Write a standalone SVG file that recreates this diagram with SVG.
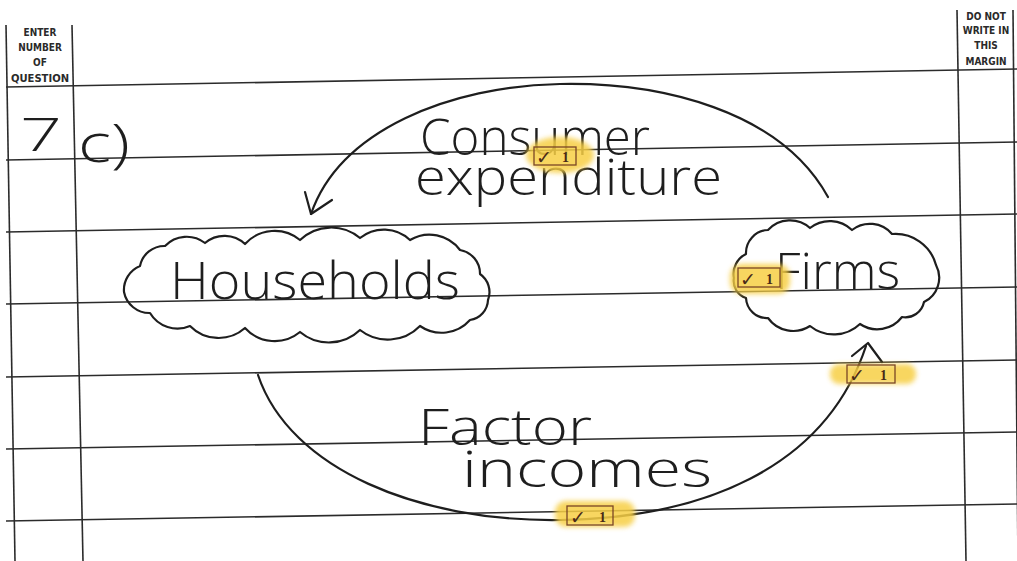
<svg xmlns="http://www.w3.org/2000/svg" width="1017" height="561" viewBox="0 0 1017 561">
  <style>
    .rule { stroke: #2b2b2b; stroke-width: 1.6; fill: none; }
    .ink { stroke: #1e1e1e; stroke-width: 2.2; fill: none; stroke-linecap: round; stroke-linejoin: round; }
    .hand { font-family: "Open Sans", "DejaVu Sans", sans-serif; font-weight: 300; fill: #1e1e1e; }
    .head { font-family: "DejaVu Sans Condensed", "Liberation Sans Narrow", "Liberation Sans", sans-serif; font-weight: bold; font-size: 10px; fill: #2a2a2a; text-anchor: middle; }
    .hl { fill: #f7cf45; opacity: 0.85; filter: url(#soft); }
    .box { fill: none; stroke: #7a4526; stroke-width: 1.3; }
    .tick { font-family: "DejaVu Sans", sans-serif; font-size: 19px; fill: #4a2a18; font-weight: bold; }
    .one { font-family: "Liberation Serif", serif; font-size: 14px; fill: #4a2a18; font-weight: bold; }
  </style>
  <defs>
    <filter id="soft" x="-20%" y="-40%" width="140%" height="180%">
      <feGaussianBlur stdDeviation="2.5"/>
    </filter>
  </defs>

  <rect width="1017" height="561" fill="#ffffff"/>

  <!-- answer sheet ruling (sheet sits slightly skewed) -->
  <g id="sheet">
    <line class="rule" x1="6" y1="25" x2="15" y2="561"/>
    <line class="rule" x1="72" y1="25" x2="83" y2="561"/>
    <line class="rule" x1="957" y1="10" x2="966" y2="561"/>
    <line class="rule" x1="1013" y1="10" x2="1018" y2="561"/>
    <line class="rule" x1="6" y1="87" x2="1017" y2="69"/>
    <line class="rule" x1="6" y1="160" x2="1017" y2="142"/>
    <line class="rule" x1="6" y1="232" x2="1017" y2="214"/>
    <line class="rule" x1="6" y1="304" x2="1017" y2="287"/>
    <line class="rule" x1="6" y1="377" x2="1017" y2="360"/>
    <line class="rule" x1="6" y1="449" x2="1017" y2="432"/>
    <line class="rule" x1="6" y1="521" x2="1017" y2="504"/>
    <text class="head" x="40" y="36">ENTER</text>
    <text class="head" x="40" y="51">NUMBER</text>
    <text class="head" x="40" y="66">OF</text>
    <text class="head" x="40" y="82" textLength="58" lengthAdjust="spacingAndGlyphs">QUESTION</text>
    <text class="head" x="986" y="20">DO NOT</text>
    <text class="head" x="986" y="34">WRITE IN</text>
    <text class="head" x="986" y="49">THIS</text>
    <text class="head" x="986" y="65">MARGIN</text>
  </g>

  <!-- question number -->
  <g id="question">
    <text class="hand" x="20" y="151" font-size="46" textLength="42" lengthAdjust="spacingAndGlyphs">7</text>
    <text class="hand" x="78" y="162" font-size="54" textLength="52" lengthAdjust="spacingAndGlyphs">c)</text>
  </g>

  <!-- flows between the two sectors -->
  <g id="connectors">
    <path class="ink" d="M 828,197 C 780,110 660,82 560,84 C 450,86 340,130 311,214"/>
    <path class="ink" d="M 305,192 L 311,214 L 332,200"/>
    <path class="ink" d="M 258,375 C 290,470 420,522 560,520 C 700,518 825,470 866,346"/>
    <path class="ink" d="M 852,356 L 868,343 L 882,362"/>
  </g>

  <g id="node-households">
    <path class="ink" d="M 140,266 A 25,25 0 0 1 165,246 A 30,30 0 0 1 205,243 A 30,30 0 0 1 245,244 A 40,40 0 0 1 300,240 A 45,45 0 0 1 360,238 A 38,38 0 0 1 410,240 A 38,38 0 0 1 460,250 A 24,24 0 0 1 480,274 A 22,22 0 0 1 488,300 A 21,21 0 0 1 470,320 A 38,38 0 0 1 420,326 A 45,45 0 0 1 360,330 A 45,45 0 0 1 300,332 A 40,40 0 0 1 245,328 A 40,40 0 0 1 190,326 A 32,32 0 0 1 150,313 A 26,26 0 0 1 124,292 A 26,26 0 0 1 140,266 Z"/>
    <text class="hand" x="170" y="299" font-size="52" textLength="290" lengthAdjust="spacingAndGlyphs">Households</text>
  </g>

  <g id="node-firms">
    <path class="ink" d="M 746,254 A 23,23 0 0 1 768,230 A 30,30 0 0 1 810,228 A 32,32 0 0 1 852,230 A 29,29 0 0 1 892,234 A 42,42 0 0 1 936,265 A 27,27 0 0 1 924,302 A 19,19 0 0 1 902,317 A 31,31 0 0 1 860,324 A 38,38 0 0 1 810,326 A 31,31 0 0 1 768,318 A 21,21 0 0 1 746,298 A 18,18 0 0 1 734,278 A 22,22 0 0 1 746,254 Z"/>
    <text class="hand" x="775" y="289" font-size="50" textLength="125" lengthAdjust="spacingAndGlyphs">Firms</text>
  </g>

  <!-- flow labels -->
  <g id="labels">
    <text class="hand" x="420" y="155" font-size="50" textLength="230" lengthAdjust="spacingAndGlyphs">Consumer</text>
    <text class="hand" x="415" y="195" font-size="50" textLength="307" lengthAdjust="spacingAndGlyphs">expenditure</text>
    <text class="hand" x="418" y="445" font-size="50" textLength="174" lengthAdjust="spacingAndGlyphs">Factor</text>
    <text class="hand" x="462" y="487" font-size="50" textLength="250" lengthAdjust="spacingAndGlyphs">incomes</text>
  </g>

  <!-- marker's ticks -->
  <g id="marks">
    <ellipse class="hl" cx="560" cy="155" rx="34" ry="18"/>
    <rect class="box" x="534" y="147" width="42" height="18"/>
    <text class="tick" x="536" y="164">✓</text>
    <text class="one" x="562" y="162">1</text>

    <rect class="hl" x="730" y="264" width="60" height="30" rx="12"/>
    <rect class="box" x="738" y="268" width="42" height="19"/>
    <text class="tick" x="740" y="286">✓</text>
    <text class="one" x="766" y="284">1</text>

    <rect class="hl" x="830" y="364" width="86" height="20" rx="9"/>
    <rect class="box" x="847" y="365" width="48" height="18"/>
    <text class="tick" x="849" y="382">✓</text>
    <text class="one" x="880" y="380">1</text>

    <rect class="hl" x="555" y="501" width="80" height="26" rx="11"/>
    <rect class="box" x="567" y="506" width="46" height="19"/>
    <text class="tick" x="570" y="524">✓</text>
    <text class="one" x="599" y="522">1</text>
  </g>
</svg>
